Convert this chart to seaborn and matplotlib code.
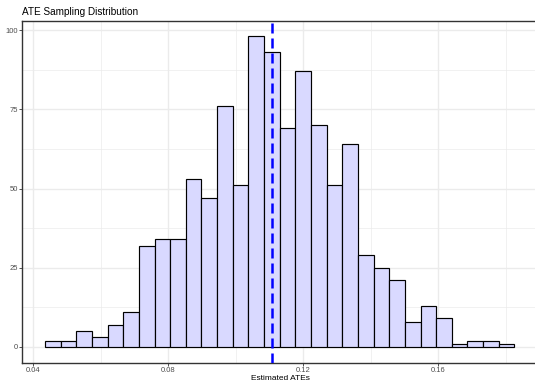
import numpy as np
import pandas as pd
import matplotlib
matplotlib.use("Agg")
import matplotlib.pyplot as plt
import seaborn as sns

# Data
counts = [2, 2, 5, 3, 7, 11, 32, 34, 34, 53, 47, 76, 51, 98, 93,
          69, 87, 70, 51, 64, 29, 25, 21, 8, 13, 9, 1, 2, 2, 1]
bin_start = 0.04356
bin_width = 0.004635
mean_ate = 0.1108
x_ticks = [0.04, 0.08, 0.12, 0.16]
x_tick_labels = ["0.04", "0.08", "0.12", "0.16"]
y_ticks = [0, 25, 50, 75, 100]
title = "ATE Sampling Distribution"
xlabel = "Estimated ATEs"

edges = [bin_start + bin_width * i for i in range(len(counts) + 1)]
centers = [(edges[i] + edges[i + 1]) / 2 for i in range(len(counts))]
df = pd.DataFrame({"ate": centers, "n": counts})

sns.set_theme(style="white")
plt.rcParams['font.family'] = ['Liberation Sans', 'DejaVu Sans']

W, H = 535, 382
fig = plt.figure(figsize=(W / 100, H / 100), dpi=100)
ax = fig.add_axes([22 / W, 1 - 363 / H, (535 - 22) / W, (363 - 21) / H])

sns.histplot(data=df, x="ate", weights="n", bins=edges, ax=ax,
             color=(217 / 255, 217 / 255, 1.0), alpha=1.0,
             edgecolor="black", linewidth=0.85, zorder=3)

ax.axvline(mean_ate, color="#0000FF", linestyle=(0, (4, 2)), linewidth=1.8, zorder=4)

ax.set_xlim(0.03674, 0.1887)
ax.set_ylim(-5.05, 102.85)
ax.set_xticks(x_ticks)
ax.set_xticklabels(x_tick_labels)
ax.set_yticks(y_ticks)
ax.set_xticks([0.06, 0.10, 0.14, 0.18], minor=True)
ax.set_yticks([12.5, 37.5, 62.5, 87.5], minor=True)

ax.grid(True, which="major", color="#EBEBEB", linewidth=1.0, zorder=0)
ax.grid(True, which="minor", color="#EBEBEB", linewidth=0.5, zorder=0)
ax.set_axisbelow(True)

ax.tick_params(axis="both", which="major", length=2.0, width=0.6, color="#333333",
               labelsize=5.5, labelcolor="#4D4D4D", pad=1.0)
ax.tick_params(axis="both", which="minor", length=0)
ax.tick_params(bottom=True, left=True)

for side in ["left", "top", "bottom"]:
    ax.spines[side].set_color("#333333")
    ax.spines[side].set_linewidth(1.0)
ax.spines["right"].set_visible(False)

ax.set_ylabel("")
ax.set_xlabel("")
fig.text(280 / W, 1 - 378.5 / H, xlabel, fontsize=6.0, color="black",
         va="center", ha="center")
fig.text(22 / W, 1 - 12 / H, title, fontsize=7.2, color="black", va="center", ha="left")

fig.savefig("out.png", dpi=100)
